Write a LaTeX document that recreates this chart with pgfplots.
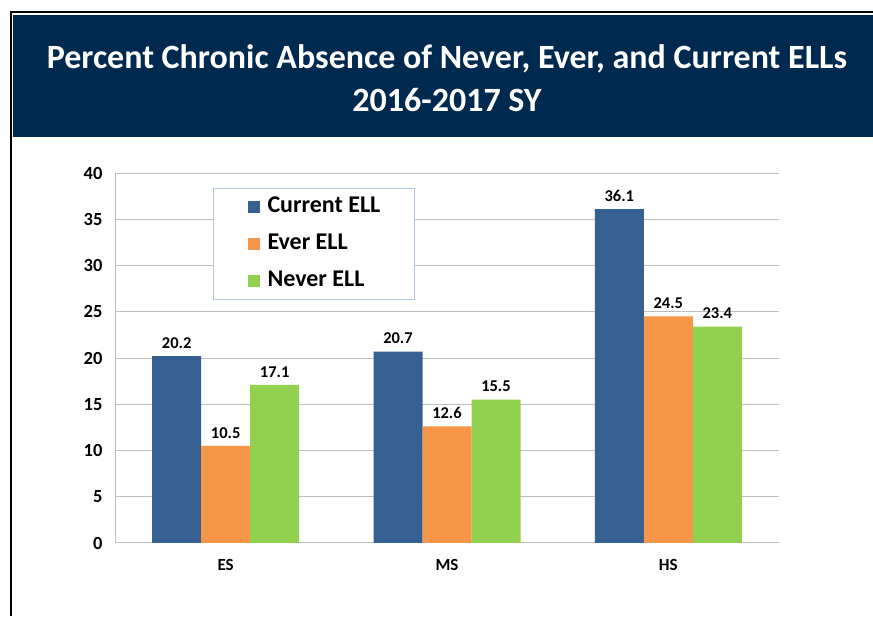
\documentclass[border=0pt]{standalone}
\usepackage{pgfplots}
\pgfplotsset{compat=1.18}
\usepackage{fontspec}
\setmainfont{Carlito}
\definecolor{navy}{RGB}{0,41,80}
\definecolor{cblue}{RGB}{55,96,146}
\definecolor{corange}{RGB}{247,150,70}
\definecolor{cgreen}{RGB}{146,208,80}
\definecolor{gridgray}{RGB}{190,190,190}
\definecolor{legborder}{RGB}{180,200,228}
\begin{document}
\begin{tikzpicture}
\useasboundingbox (0pt,0pt) rectangle (873pt,616pt);
\fill[white] (0pt,0pt) rectangle (873pt,616pt);
% frame
\draw[black, line width=2.5pt] (11pt,0pt) -- (11pt,604pt) -- (873pt,604pt);
\fill[navy] (12.5pt,479pt) rectangle (873pt,601pt);
\node[white, font=\fontsize{34}{38}\selectfont\bfseries] at (447pt,557pt) {Percent Chronic Absence of Never, Ever, and Current ELLs};
\node[white, font=\fontsize{34}{38}\selectfont\bfseries] at (447pt,516pt) {2016-2017 SY};
\begin{axis}[
  at={(115pt,73pt)}, anchor=south west,
  scale only axis, width=664pt, height=370pt,
  ybar=0pt, bar width=49pt,
  xmin=-0.5, xmax=2.5, ymin=0, ymax=40,
  xtick={0,1,2}, xticklabels={ES,MS,HS},
  ytick={0,5,...,40},
  axis x line*=bottom, axis y line*=left,
  axis line style={gridgray, line width=1pt},
  ymajorgrids, grid style={gridgray, line width=1pt},
  major tick length=0pt,
  tick label style={font=\fontsize{18.5}{20}\selectfont\bfseries, black},
  xticklabel style={font=\fontsize{17}{18}\selectfont\bfseries, yshift=-13pt},
  /pgf/number format/assume math mode=true,
  yticklabel style={xshift=-9pt},
  nodes near coords={\pgfmathprintnumber[fixed,fixed zerofill,precision=1]{\pgfplotspointmeta}},
  nodes near coords style={font=\fontsize{16.5}{18}\selectfont\bfseries, black, yshift=4pt},
  legend cell align=left,
  legend image code/.code={\fill[#1, draw=none] (0pt,-6pt) rectangle (12pt,6pt);},
  legend style={at={(0.1476,0.9595)}, anchor=north west, draw=legborder, line width=1pt,
    font=\fontsize{24}{26}\selectfont\bfseries, inner xsep=34pt, inner ysep=8pt,
    nodes={inner sep=0pt, text height=16pt, text depth=5pt},
    row sep=16pt, column sep=8pt, fill=white},
]
\addplot[fill=cblue, draw=none] coordinates {(0,20.2) (1,20.7) (2,36.1)};
\addplot[fill=corange, draw=none] coordinates {(0,10.5) (1,12.6) (2,24.5)};
\addplot[fill=cgreen, draw=none] coordinates {(0,17.1) (1,15.5) (2,23.4)};
\legend{Current ELL, Ever ELL, Never ELL}
\end{axis}
\end{tikzpicture}
\end{document}
